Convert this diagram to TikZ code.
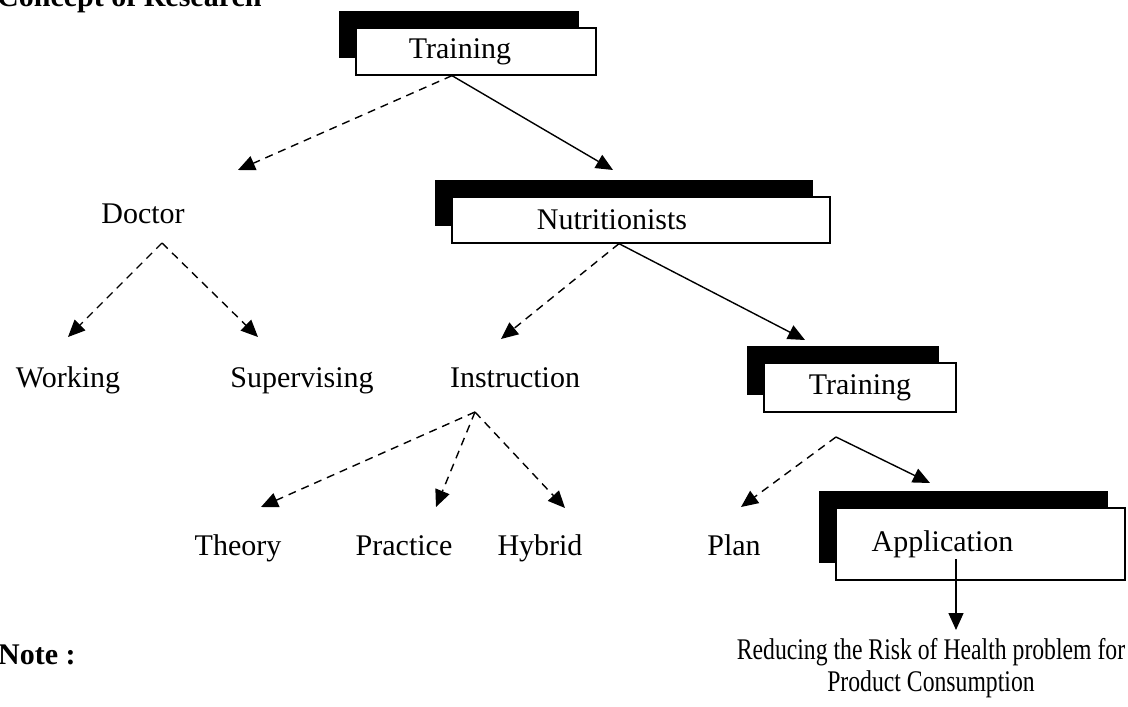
\documentclass[tikz,border=0pt]{standalone}
\usepackage{fontspec}
\setmainfont{Liberation Serif}
\newfontfamily\narrowserif[FakeStretch=0.79]{Liberation Serif}
\usetikzlibrary{shadows,arrows.meta}
\begin{document}
\begin{tikzpicture}[x=1pt,y=-1pt,
    every node/.style={font=\fontsize{30}{36}\selectfont, inner sep=0pt},
    box/.style={draw, fill=white, line width=1.3pt,
        drop shadow={shadow xshift=-17pt, shadow yshift=17pt, fill=black, opacity=1}},
    solidarrow/.style={line width=1.4pt, -{Triangle[length=17pt,width=15pt]}},
    dasharrow/.style={solidarrow, dash pattern=on 8pt off 6pt}]
    \useasboundingbox (0,0) rectangle (1128,707);
    \node[box, minimum width=240pt, minimum height=47pt] (trainA) at (476,51.5) {\hspace*{-32pt}Training};
    \node[box, minimum width=378pt, minimum height=46pt] (nutri) at (641,220) {\hspace*{-58pt}Nutritionists};
    \node[box, minimum width=192pt, minimum height=49pt] (trainB) at (860,387.5) {Training};
    \node[box, minimum width=289pt, minimum height=72pt] (appl) at (980.5,544) {\hspace*{-76pt}Application};
    \node[anchor=base west, font=\bfseries\fontsize{30}{36}\selectfont] (title) at (-3,6) {Concept of Research};
    \node[anchor=base] (doctor) at (143,223) {Doctor};
    \node[anchor=base] (working) at (68,387) {Working};
    \node[anchor=base] (superv) at (302,387) {Supervising};
    \node[anchor=base] (instr) at (515,387) {Instruction};
    \node[anchor=base] (theory) at (238,555) {Theory};
    \node[anchor=base] (practice) at (404,555) {Practice};
    \node[anchor=base] (hybrid) at (540,555) {Hybrid};
    \node[anchor=base] (plan) at (734,555) {Plan};
    \node[anchor=base west, font=\bfseries\fontsize{30}{36}\selectfont] (note) at (-2,664) {Note :};
    \node[anchor=north, align=center, font=\narrowserif\fontsize{30}{32}\selectfont] (risk) at (931,638)
        {Reducing the Risk of Health problem for\\Product Consumption};
    \coordinate (trainAfoot) at ([xshift=-24pt]trainA.south);
    \coordinate (doctorFoot) at (162,243);
    \coordinate (nutriFoot) at ([xshift=-22pt]nutri.south);
    \coordinate (instrFoot) at (475,412);
    \coordinate (trainBfoot) at (836,437);
    \coordinate (applFoot) at (956,559);
    \coordinate (doctorTip) at (238,170);
    \coordinate (nutriTip) at (613,170);
    \coordinate (workingTip) at (68,337);
    \coordinate (supervTip) at (258,337);
    \coordinate (instrTip) at (501,339);
    \coordinate (trainBtip) at (805,340);
    \coordinate (theoryTip) at (261,507);
    \coordinate (practiceTip) at (436,507);
    \coordinate (hybridTip) at (565,508);
    \coordinate (planTip) at (741,507);
    \coordinate (applTip) at (930,483);
    \coordinate (riskTip) at (956,630);
    \draw[dasharrow] (trainAfoot) -- (doctorTip);
    \draw[solidarrow] (trainAfoot) -- (nutriTip);
    \draw[dasharrow] (doctorFoot) -- (workingTip);
    \draw[dasharrow] (doctorFoot) -- (supervTip);
    \draw[dasharrow] (nutriFoot) -- (instrTip);
    \draw[solidarrow] (nutriFoot) -- (trainBtip);
    \draw[dasharrow] (instrFoot) -- (theoryTip);
    \draw[dasharrow] (instrFoot) -- (practiceTip);
    \draw[dasharrow] (instrFoot) -- (hybridTip);
    \draw[dasharrow] (trainBfoot) -- (planTip);
    \draw[solidarrow] (trainBfoot) -- (applTip);
    \draw[solidarrow] (applFoot) -- (riskTip);
\end{tikzpicture}
\end{document}
